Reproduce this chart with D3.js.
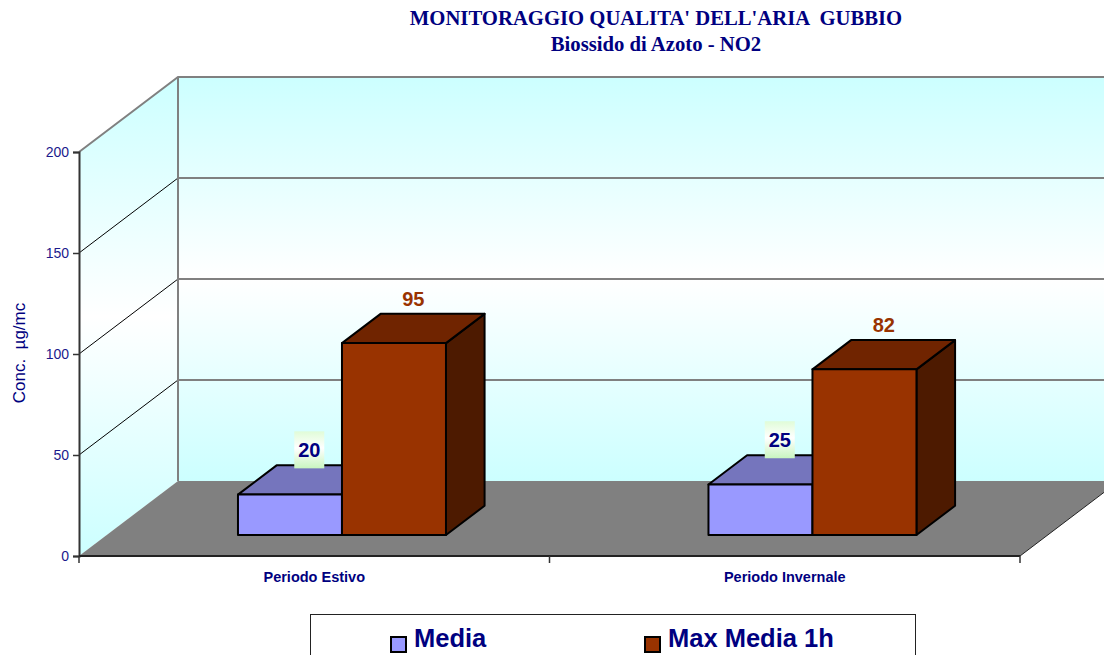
<!DOCTYPE html>
<html>
<head>
<meta charset="utf-8">
<script src="https://cdn.jsdelivr.net/npm/d3@7"></script>
<style>
  html, body { margin: 0; padding: 0; background: #fff; }
  svg { display: block; }
  text { font-family: "Liberation Sans", Arial, sans-serif; }
  .title { font-family: "Liberation Serif", "Times New Roman", serif; font-weight: bold; fill: #000080; white-space: pre; }
</style>
</head>
<body>
<svg id="chart" width="1104" height="655"></svg>
<script>
// ---- data ----
const categories = ['Periodo Estivo', 'Periodo Invernale'];
const seriesNames = ['Media', 'Max Media 1h'];
const mediaValues = [20, 25];
const maxValues = [95, 82];
const yTicks = [0, 50, 100, 150, 200];

const seriesColors = {
  'Media': { front: '#9999ff', top: '#7575bd', side: '#5c5c99', label: '#000080' },
  'Max Media 1h': { front: '#993300', top: '#702400', side: '#4d1a00', label: '#993300' },
};

// ---- layout ----
const W = 1104, H = 655;
const depth = { dx: 99, dy: -75 };   // 3D offset from front plane to back wall
const barT0 = 0.28, barT1 = 0.67;   // bar depth range (0 = front, 1 = back)

const svg = d3.select('#chart');
const defs = svg.append('defs');

const y = d3.scaleLinear().domain([0, 200]).range([556, 152]);
const x = d3.scaleBand().domain(categories).range([79, 1020]);
const xs = d3.scaleBand().domain(seriesNames).range([0, x.bandwidth()]).paddingOuter(1.262);

const shift = (t) => [depth.dx * t, depth.dy * t];

// gradients
const wallGrad = defs.append('linearGradient').attr('id', 'wallGrad')
  .attr('x1', 0).attr('y1', 0).attr('x2', 0).attr('y2', 1);
wallGrad.append('stop').attr('offset', '0%').attr('stop-color', '#ccffff');
wallGrad.append('stop').attr('offset', '50%').attr('stop-color', '#ffffff');
wallGrad.append('stop').attr('offset', '100%').attr('stop-color', '#ccffff');

const boxGrad = defs.append('linearGradient').attr('id', 'boxGrad')
  .attr('x1', 0).attr('y1', 0).attr('x2', 0).attr('y2', 1);
boxGrad.append('stop').attr('offset', '0%').attr('stop-color', '#e0fcd8');
boxGrad.append('stop').attr('offset', '45%').attr('stop-color', '#ffffff');
boxGrad.append('stop').attr('offset', '100%').attr('stop-color', '#c8f5c0');

const [bx, by] = shift(1);
const xL = x.range()[0], xR = x.range()[1];
const yZero = y(0), yTop = y(d3.max(yTicks));
const poly = (pts) => 'M' + pts.map((p) => p.join(',')).join('L') + 'Z';

// ---- walls ----
// back wall
svg.append('path')
  .attr('d', poly([[xL + bx, yTop + by], [xR + bx, yTop + by], [xR + bx, yZero + by], [xL + bx, yZero + by]]))
  .attr('fill', 'url(#wallGrad)');
// side wall
svg.append('path')
  .attr('d', poly([[xL, yZero], [xL, yTop], [xL + bx, yTop + by], [xL + bx, yZero + by]]))
  .attr('fill', 'url(#wallGrad)');
// floor
svg.append('path')
  .attr('d', poly([[xL, yZero], [xL + bx, yZero + by], [xR + bx, yZero + by], [xR, yZero]]))
  .attr('fill', '#808080');
svg.append('line')
  .attr('x1', xR).attr('y1', yZero).attr('x2', xR + bx).attr('y2', yZero + by)
  .attr('stroke', '#222').attr('stroke-width', 1);

// gridlines (back wall = gray, side wall = thin black)
const gridVals = yTicks.filter((v) => v > 0 && v < 200);
svg.selectAll('.gback').data(gridVals).join('line')
  .attr('x1', xL + bx).attr('x2', xR + bx)
  .attr('y1', (d) => y(d) + by).attr('y2', (d) => y(d) + by)
  .attr('stroke', '#808080').attr('stroke-width', 2);
svg.selectAll('.gside').data(gridVals).join('line')
  .attr('x1', xL).attr('x2', xL + bx)
  .attr('y1', (d) => y(d)).attr('y2', (d) => y(d) + by)
  .attr('stroke', '#000').attr('stroke-width', 1);

// wall borders
svg.append('path')
  .attr('d', `M${xL},${yTop}L${xL + bx},${yTop + by}L${xR + bx},${yTop + by}M${xL + bx},${yTop + by}L${xL + bx},${yZero + by}`)
  .attr('fill', 'none').attr('stroke', '#808080').attr('stroke-width', 2);

// ---- axes ----
const yAxis = svg.append('g')
  .attr('transform', `translate(${xL},0)`)
  .call(d3.axisLeft(y).tickValues(yTicks).tickSize(6).tickPadding(4));
yAxis.select('.domain').attr('stroke', '#333').attr('stroke-width', 2);
yAxis.selectAll('.tick line').attr('stroke', '#333').attr('stroke-width', 1.5);
yAxis.selectAll('.tick text')
  .attr('fill', '#1a1a8c').style('font-size', '14px').style('font-family', '"Liberation Sans", Arial, sans-serif');

// x axis line and boundary ticks
svg.append('line')
  .attr('x1', xL).attr('x2', xR).attr('y1', yZero).attr('y2', yZero)
  .attr('stroke', '#222').attr('stroke-width', 2);
const bounds = categories.map((c) => x(c)).concat([xR]);
svg.selectAll('.xtick').data(bounds).join('line')
  .attr('x1', (d) => d).attr('x2', (d) => d)
  .attr('y1', yZero).attr('y2', yZero + 7)
  .attr('stroke', '#333').attr('stroke-width', 1.5);
svg.selectAll('.xlabel').data(categories).join('text')
  .attr('x', (d) => x(d) + x.bandwidth() / 2)
  .attr('y', 582)
  .attr('text-anchor', 'middle')
  .attr('fill', '#000080')
  .style('font-size', '14.5px').style('font-weight', 'bold')
  .text((d) => d);

// y axis title
svg.append('text')
  .attr('transform', 'translate(25,353) rotate(-90)')
  .attr('text-anchor', 'middle')
  .attr('fill', '#000080')
  .style('font-size', '17px')
  .style('white-space', 'pre')
  .text('Conc.  \u00b5g/mc');

// ---- bars ----
const [f0x, f0y] = shift(barT0);
const [ddx, ddy] = shift(barT1 - barT0);
const bw = xs.bandwidth();

categories.forEach((cat, i) => {
  const vals = { 'Media': mediaValues[i], 'Max Media 1h': maxValues[i] };
  seriesNames.forEach((s) => {
    const v = vals[s];
    const c = seriesColors[s];
    const xl = x(cat) + xs(s) + f0x;
    const xr = xl + bw;
    const yb = y(0) + f0y;
    const yt = y(v) + f0y;
    const g = svg.append('g')
      .attr('stroke', '#000').attr('stroke-width', 2).attr('stroke-linejoin', 'round');
    g.append('path').attr('fill', c.side)
      .attr('d', poly([[xr, yt], [xr + ddx, yt + ddy], [xr + ddx, yb + ddy], [xr, yb]]));
    g.append('path').attr('fill', c.top)
      .attr('d', poly([[xl, yt], [xl + ddx, yt + ddy], [xr + ddx, yt + ddy], [xr, yt]]));
    g.append('rect').attr('fill', c.front)
      .attr('x', xl).attr('y', yt).attr('width', bw).attr('height', yb - yt);

    // value label
    const lx = xl + bw / 2 + ddx / 2;
    const ly = yt + ddy - 8;
    if (s === 'Media') {
      svg.append('rect')
        .attr('x', lx - 15).attr('y', ly - 26).attr('width', 30).attr('height', 37)
        .attr('fill', 'url(#boxGrad)');
    }
    svg.append('text')
      .attr('x', lx).attr('y', ly)
      .attr('text-anchor', 'middle')
      .attr('fill', c.label)
      .style('font-size', '20px').style('font-weight', 'bold')
      .text(v);
  });
});

// ---- titles ----
svg.append('text').attr('class', 'title')
  .attr('x', 656).attr('y', 25).attr('text-anchor', 'middle')
  .style('font-size', '20.7px')
  .text("MONITORAGGIO QUALITA' DELL'ARIA  GUBBIO");
svg.append('text').attr('class', 'title')
  .attr('x', 656).attr('y', 51).attr('text-anchor', 'middle')
  .style('font-size', '20.7px')
  .text('Biossido di Azoto - NO2');

// ---- legend ----
const legend = svg.append('g');
legend.append('rect')
  .attr('x', 310.5).attr('y', 614.5).attr('width', 605).attr('height', 60)
  .attr('fill', '#fff').attr('stroke', '#222').attr('stroke-width', 1);
const legendX = [391, 645];
seriesNames.forEach((s, i) => {
  legend.append('rect')
    .attr('x', legendX[i]).attr('y', 637).attr('width', 15).attr('height', 15)
    .attr('fill', seriesColors[s].front).attr('stroke', '#000').attr('stroke-width', 2);
  legend.append('text')
    .attr('x', legendX[i] + 23).attr('y', 647)
    .attr('fill', '#000080')
    .style('font-size', '25.5px').style('font-weight', 'bold')
    .text(s);
});
</script>
</body>
</html>
